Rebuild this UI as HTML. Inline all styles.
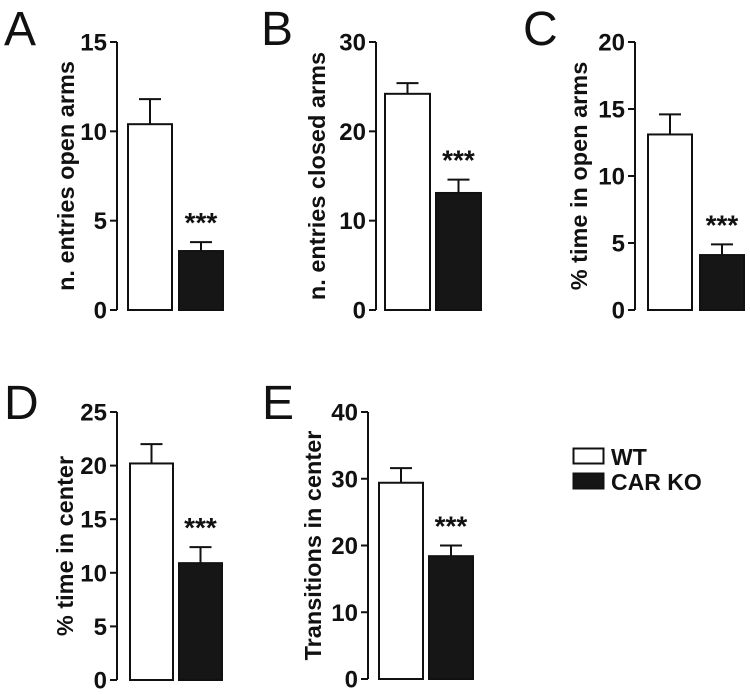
<!DOCTYPE html>
<html><head><meta charset="utf-8"><style>
body{margin:0;background:#fff}
svg{display:block}
text{font-family:"Liberation Sans",Arial,sans-serif}
</style></head><body>
<svg id="fig" width="750" height="695" viewBox="0 0 750 695">
<g id="legend">
<rect x="573.5" y="448.5" width="30" height="15" fill="#fff" stroke="#111" stroke-width="2"/>
<text x="611" y="465" font-size="23" font-weight="bold" fill="#111">WT</text>
<rect x="573.5" y="473.5" width="30" height="15" fill="#161616" stroke="#111" stroke-width="2"/>
<text x="611" y="490" font-size="23" font-weight="bold" fill="#111">CAR KO</text>
</g>
</svg>
<script>
const panelLetters=["A","B","C","D","E"];
const titles=["n. entries open arms","n. entries closed arms","% time in open arms","% time in center","Transitions in center"];
const yMax=[15,30,20,25,40];
const yStep=[5,10,5,5,10];
const wtMeans=[10.4,24.2,13.1,20.2,29.4];
const wtErr=[1.4,1.2,1.5,1.8,2.2];
const koMeans=[3.3,13.1,4.1,10.9,18.4];
const koErr=[0.5,1.5,0.8,1.5,1.6];
// layout (pixels)
const layout=[
 {ax:117,top:42,bot:310,wx:128,kx:179,bw:44,lx:4,ly:45,tx:65},
 {ax:376,top:42,bot:310,wx:385,kx:436,bw:45,lx:261,ly:45,tx:316},
 {ax:635,top:42,bot:310,wx:648,kx:700,bw:44,lx:523,ly:45,tx:578},
 {ax:117,top:412,bot:680,wx:130,kx:179,bw:43,lx:4,ly:419,tx:64},
 {ax:368,top:412,bot:679,wx:379,kx:429,bw:44,lx:262,ly:419,tx:312}
];
const NS="http://www.w3.org/2000/svg";
const svg=document.getElementById('fig');
function mk(tag,attrs,parent){const e=document.createElementNS(NS,tag);for(const k in attrs)e.setAttribute(k,attrs[k]);parent.appendChild(e);return e;}
layout.forEach((L,i)=>{
 const g=mk('g',{},svg);
 
 
 const y=v=>L.bot-(v/yMax[i])*(L.bot-L.top);
 const lt=mk('text',{x:L.lx,y:L.ly,'font-size':48,fill:'#111'},g);lt.textContent=panelLetters[i];
 
 
 const axis=mk('line',{x1:L.ax,x2:L.ax,y1:L.top,y2:L.bot,stroke:'#111','stroke-width':2},g);
 
 
 for(let v=0;v<=yMax[i];v+=yStep[i]){
  const tk=mk('line',{x1:L.ax-7,x2:L.ax,y1:y(v),y2:y(v),stroke:'#111','stroke-width':2},g);
  
  
  const tl=mk('text',{x:L.ax-10,y:y(v)+8.5,'font-size':24,'font-weight':'bold','text-anchor':'end',fill:'#111'},g);tl.textContent=v;
  
  
 }
 const cy=(L.top+L.bot)/2;
 const tt=mk('text',{x:L.tx,y:cy,'font-size':23.5,'font-weight':'bold','text-anchor':'middle',fill:'#111',transform:`rotate(-90 ${L.tx} ${cy}) translate(0 9)`},g);tt.textContent=titles[i];
 
 
 [[L.wx,wtMeans[i],wtErr[i],'#fff','wt'],[L.kx,koMeans[i],koErr[i],'#161616','ko']].forEach(([x,m,e,f,n])=>{
  const cx=x+L.bw/2;
  const el=mk('line',{x1:cx,x2:cx,y1:y(m),y2:y(m+e),stroke:'#111','stroke-width':2},g);
  
  
  const cp=mk('line',{x1:cx-11,x2:cx+11,y1:y(m+e),y2:y(m+e),stroke:'#111','stroke-width':2},g);
  
  
  const r=mk('rect',{x:x,y:y(m),width:L.bw,height:L.bot-y(m),fill:f,stroke:'#111','stroke-width':2},g);
  
  
 });
 const st=mk('text',{x:L.kx+L.bw/2,y:y(koMeans[i]+koErr[i])-10,'font-size':28,'font-weight':'bold','text-anchor':'middle',fill:'#111'},g);st.textContent='***';
 
 
});
</script>
</body></html>
